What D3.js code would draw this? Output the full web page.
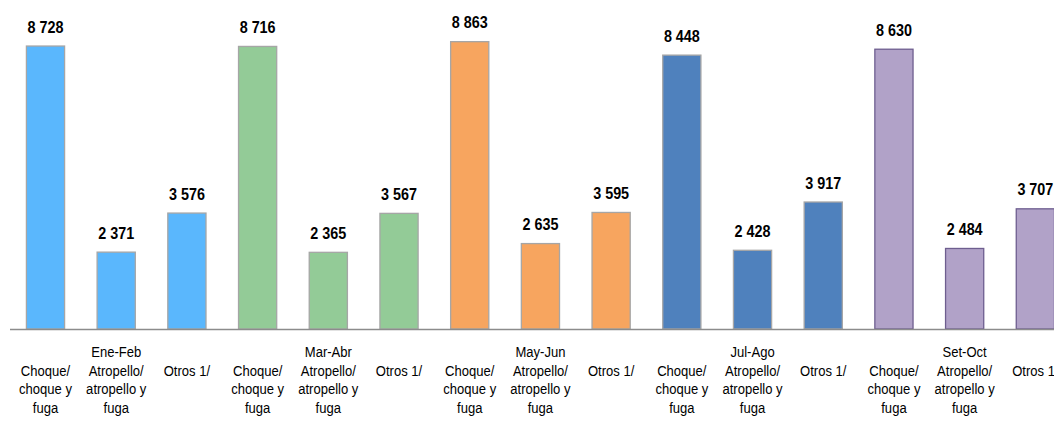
<!DOCTYPE html>
<html>
<head>
<meta charset="utf-8">
<script src="https://cdn.jsdelivr.net/npm/d3@7"></script>
<style>
html,body{margin:0;padding:0;background:#fff;}
svg{display:block;}
</style>
</head>
<body>
<svg id="chart" width="1054" height="421"></svg>
<script>
const periods = ["Ene-Feb", "Mar-Abr", "May-Jun", "Jul-Ago", "Set-Oct"];
const types = ["Choque/\nchoque y\nfuga", "Atropello/\natropello y\nfuga", "Otros 1/"];
const values = [
  [8728, 2371, 3576],
  [8716, 2365, 3567],
  [8863, 2635, 3595],
  [8448, 2428, 3917],
  [8630, 2484, 3707]
];
const fills = ["#5AB7FD", "#93CB97", "#F7A55F", "#4F81BD", "#B1A2C8"];
const strokes = ["#A6A6A6", "#A6A6A6", "#A6A6A6", "#A6A6A6", "#6E5E8F"];

const data = [];
periods.forEach((p, i) => types.forEach((t, j) => data.push({key: i + "-" + j, period: p, pi: i, type: t, ti: j, value: values[i][j]})));

const svg = d3.select("#chart");
const font = "'Liberation Sans Narrow','Arial Narrow','Liberation Sans',Arial,sans-serif";

const x = d3.scaleBand().domain(data.map(d => d.key)).range([9.65, 1070.2]).paddingInner(0.46).paddingOuter(0.23);
const y = d3.scaleLinear().domain([0, 10000]).range([329, 4.8]);

// bars
svg.append("g").selectAll("rect").data(data).join("rect")
  .attr("x", d => x(d.key) + 0.5)
  .attr("y", d => y(d.value))
  .attr("width", x.bandwidth())
  .attr("height", d => y(0) - y(d.value))
  .attr("fill", d => fills[d.pi])
  .attr("stroke", d => strokes[d.pi])
  .attr("stroke-width", 1.3);

// axis line
const xAxis = d3.axisBottom(x).tickSize(0).tickFormat("");
const ax = svg.append("g").attr("transform", `translate(0,${y(0)})`).call(xAxis);
ax.select(".domain").attr("stroke", "#8C8C8C").attr("stroke-width", 1.5).attr("d", "M10,0.5H1054");

// value labels
svg.append("g").selectAll("text").data(data).join("text")
  .attr("transform", d => `translate(${x(d.key) + x.bandwidth() / 2 + 0.5},${y(d.value) - 13.5}) scale(0.87,1)`)
  .attr("text-anchor", "middle")
  .attr("font-family", font)
  .attr("font-weight", "bold")
  .attr("font-size", 16.5)
  .attr("fill", "#000")
  .text(d => d3.format(",")(d.value).replace(",", " "));

// category labels
const lineY = [357, 376, 394.5, 413];
const cat = svg.append("g").selectAll("text").data(data).join("text")
  .attr("transform", d => `translate(${x(d.key) + x.bandwidth() / 2 + 0.5},0) scale(0.87,1)`)
  .attr("text-anchor", "middle")
  .attr("font-family", font)
  .attr("font-size", 15)
  .attr("fill", "#000");
cat.each(function(d) {
  const t = d3.select(this);
  const lines = d.type.split("\n");
  if (d.ti === 1) {
    t.append("tspan").attr("x", 0).attr("y", lineY[0]).text(d.period);
  }
  lines.forEach((l, k) => t.append("tspan").attr("x", 0).attr("y", lineY[k + 1]).text(l));
});
</script>
</body>
</html>
